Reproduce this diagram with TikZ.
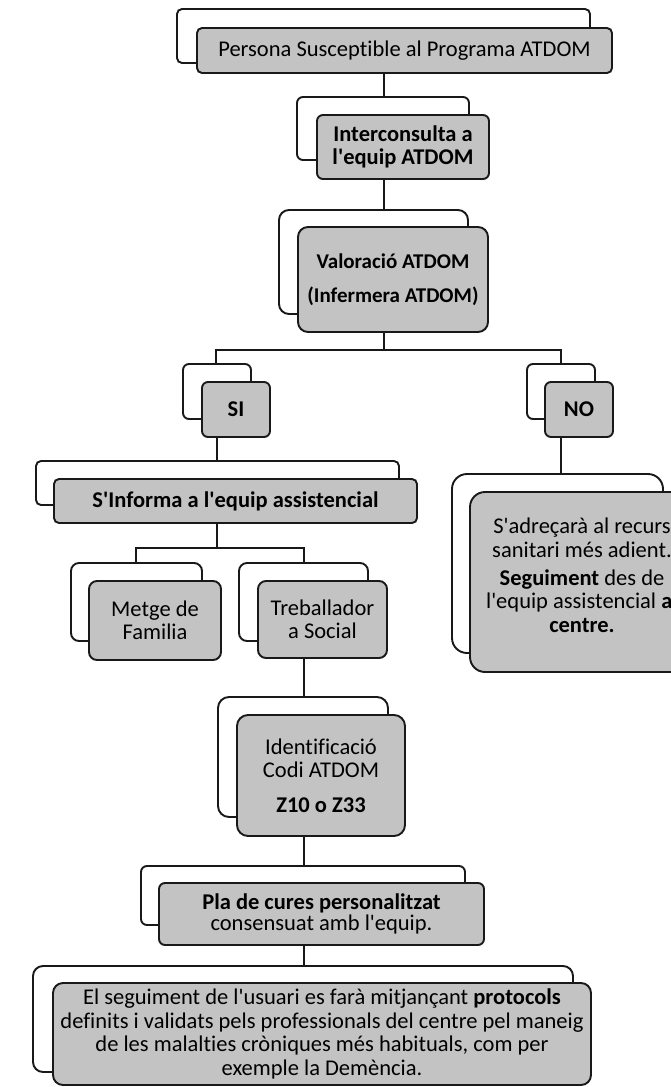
\documentclass[tikz,border=0pt]{standalone}
\usepackage{fontspec}
\setmainfont[Ligatures=NoCommon]{Carlito}
\definecolor{boxgray}{RGB}{195,195,195}
\definecolor{edgec}{RGB}{25,25,25}
\newcommand{\ap}{\textquotesingle}
\newcommand{\mybox}[7]{%
  \node[#6, minimum width={(#4)-(#2)}, minimum height={(#5)-(#3)}] (#1) at ({((#2)+(#4))/2},{((#3)+(#5))/2}) {#7};}
\tikzset{
  back/.style={draw=edgec, line width=1.9pt, fill=white, inner sep=0pt},
  front/.style={draw=edgec, line width=1.9pt, fill=boxgray, inner sep=0pt, align=center,
    font=\fontsize{22.5}{23.5}\selectfont},
  link/.style={draw=edgec, line width=1.9pt}
}
\begin{document}
\begin{tikzpicture}[x=1pt,y=-1pt]
\useasboundingbox (0,0) rectangle (671,1087);
\clip (0,0) rectangle (671,1087);
% boxes
\mybox{b1}{177}{9}{590}{63}{back, rounded corners=5pt}{}
\mybox{f1}{197}{28}{612}{73}{front, rounded corners=5pt}{Persona Susceptible al Programa ATDOM}
\mybox{b2}{297}{97}{469}{160}{back, rounded corners=6pt}{}
\mybox{f2}{317}{115}{489}{179}{front, rounded corners=6pt}{\textbf{Interconsulta a}\\\textbf{l\ap equip ATDOM}}
\mybox{b3}{279}{210}{468}{314}{back, rounded corners=10pt}{}
\mybox{f3}{298}{227}{488}{332}{front, rounded corners=10pt, font=\fontsize{21}{23.5}\selectfont}{\textbf{Valoració ATDOM}\\[10.5pt]\textbf{(Infermera ATDOM)}}
\mybox{b4}{183}{364}{251}{419}{back, rounded corners=6pt}{}
\mybox{f4}{202}{382}{270}{437}{front, rounded corners=6pt}{\textbf{SI}}
\mybox{b5}{527}{364}{595}{419}{back, rounded corners=6pt}{}
\mybox{f5}{545}{382}{613}{437}{front, rounded corners=6pt}{\textbf{NO}}
\mybox{b6}{36}{461}{399}{505}{back, rounded corners=5pt}{}
\mybox{f6}{54}{479}{417}{523}{front, rounded corners=5pt}{\textbf{S\ap Informa a l\ap equip assistencial}}
\mybox{b7}{71}{563}{202}{641}{back, rounded corners=8pt}{}
\mybox{f7}{89}{581}{221}{660}{front, rounded corners=8pt}{Metge de\\Familia}
\mybox{b8}{239}{563}{368}{641}{back, rounded corners=8pt}{}
\mybox{f8}{258}{581}{387}{658}{front, rounded corners=8pt}{Treballador\\a Social}
\mybox{b9}{218}{697}{388}{817}{back, rounded corners=11pt}{}
\mybox{f9}{237}{715}{405}{836}{front, rounded corners=11pt}{Identificació\\Codi ATDOM\\[11pt]\textbf{Z10 o Z33}}
\mybox{b10}{141}{866}{465}{925}{back, rounded corners=6pt}{}
\mybox{f10}{159}{883}{484}{945}{front, rounded corners=6pt}{\textbf{Pla de cures personalitzat}\\[-2.5pt]consensuat amb l\ap equip.}
\mybox{b11}{33}{966}{573}{1072}{back, rounded corners=10pt}{}
\mybox{f11}{53}{983}{591}{1085}{front, rounded corners=10pt}{El seguiment de l\ap usuari es farà mitjançant \textbf{protocols}\\definits i validats pels professionals del centre pel maneig\\de les malalties cròniques més habituals, com per\\exemple la Demència.}
\mybox{b12}{452}{474}{663}{653}{back, rounded corners=15pt}{}
\mybox{f12}{470}{492}{694}{672}{front, rounded corners=15pt}{S\ap adreçarà al recurs\\sanitari més adient.\\[4.5pt]\textbf{Seguiment} des de\\l\ap equip assistencial \textbf{al}\\\textbf{centre.}\\[-10pt]\mbox{}}
% connectors
\coordinate (c1) at (384,0);
\coordinate (jv) at (384,350);
\coordinate (csi) at (216,0);
\coordinate (cno) at (561,0);
\coordinate (c2) at (217,548);
\coordinate (cm) at (136,0);
\coordinate (ct) at (304,0);
\draw[link] (c1 |- f1.south) -- (c1 |- b2.north);
\draw[link] (c1 |- f2.south) -- (c1 |- b3.north);
\draw[link] (c1 |- f3.south) -- (jv);
\draw[link] (csi |- b4.north) -- (csi |- jv) -- (cno |- jv) -- (cno |- b5.north);
\draw[link] (c2 |- f4.south) -- (c2 |- b6.north);
\draw[link] (cno |- f5.south) -- (cno |- b12.north);
\draw[link] (c2 |- f6.south) -- (c2);
\draw[link] (cm |- b7.north) -- (cm |- c2) -- (ct |- c2) -- (ct |- b8.north);
\draw[link] (ct |- f8.south) -- (ct |- b9.north);
\draw[link] (ct |- f9.south) -- (ct |- b10.north);
\draw[link] (ct |- f10.south) -- (ct |- b11.north);
\end{tikzpicture}
\end{document}
